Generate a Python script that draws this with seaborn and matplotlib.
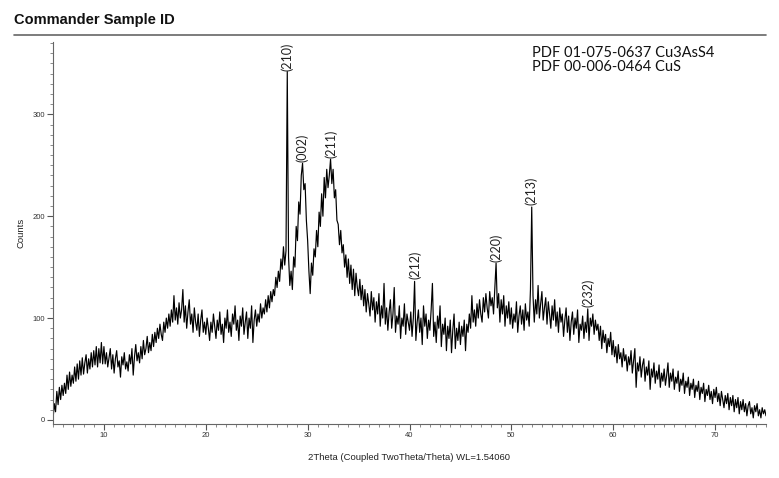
import numpy as np
import matplotlib
matplotlib.use("Agg")
from matplotlib import pyplot as plt
from matplotlib.lines import Line2D
from matplotlib.ticker import MultipleLocator
import seaborn as sns

# 2Theta grid: 5.000 .. 75.000, step 0.125 deg
theta_start = 5.0
theta_step = 0.125

# counts, one list per 5 degrees (40 points each)
counts_05 = [0, 16, 8, 28, 15, 32, 20, 34, 24, 36,
             26, 44, 30, 47, 33, 44, 36, 52, 38, 55,
             40, 58, 44, 61, 45, 56, 64, 46, 60, 50,
             66, 52, 68, 54, 72, 52, 70, 56, 76, 55]
counts_10 = [72, 55, 66, 52, 61, 70, 50, 64, 46, 60,
             68, 52, 58, 42, 62, 54, 66, 50, 57, 48,
             64, 55, 70, 44, 62, 74, 58, 66, 56, 72,
             60, 78, 64, 70, 82, 66, 76, 68, 84, 72]
counts_15 = [86, 76, 90, 80, 94, 84, 78, 96, 86, 100,
             90, 104, 92, 108, 96, 122, 98, 110, 94, 115,
             100, 108, 128, 96, 112, 90, 106, 118, 94, 104,
             86, 110, 96, 88, 104, 82, 98, 108, 86, 96]
counts_20 = [84, 100, 90, 78, 96, 86, 104, 92, 80, 98,
             88, 106, 84, 94, 76, 100, 90, 108, 86, 96,
             82, 104, 94, 112, 88, 98, 78, 102, 92, 110,
             84, 96, 106, 80, 100, 90, 112, 76, 98, 108]
counts_25 = [92, 104, 96, 114, 100, 110, 104, 118, 106, 122,
             110, 126, 116, 128, 122, 140, 130, 146, 136, 158,
             148, 170, 152, 166, 342, 160, 132, 146, 128, 160,
             150, 190, 176, 214, 202, 240, 252, 226, 232, 196]
counts_30 = [176, 146, 124, 154, 142, 168, 160, 186, 170, 204,
             190, 222, 200, 238, 218, 246, 228, 240, 256, 232,
             246, 218, 226, 196, 192, 172, 186, 164, 172, 150,
             162, 140, 158, 134, 152, 128, 148, 122, 144, 130]
counts_35 = [122, 138, 118, 132, 112, 128, 106, 124, 114, 102,
             126, 108, 120, 96, 116, 104, 124, 92, 112, 100,
             134, 94, 110, 88, 106, 118, 90, 104, 130, 86,
             102, 94, 112, 80, 100, 92, 114, 84, 104, 96]
counts_40 = [88, 106, 82, 100, 136, 78, 96, 108, 86, 100,
             74, 112, 92, 104, 80, 98, 88, 108, 134, 82,
             96, 76, 102, 90, 112, 72, 94, 84, 100, 68,
             92, 80, 98, 66, 88, 104, 70, 90, 78, 96]
counts_45 = [74, 92, 82, 98, 68, 94, 86, 104, 90, 122,
             96, 108, 92, 114, 100, 118, 104, 96, 120, 106,
             124, 110, 100, 126, 112, 120, 104, 128, 154, 110,
             124, 96, 118, 104, 122, 92, 112, 100, 116, 94]
counts_50 = [110, 90, 104, 96, 116, 86, 102, 112, 94, 108,
             88, 114, 98, 106, 92, 128, 209, 122, 96, 118,
             104, 132, 100, 114, 126, 98, 110, 120, 94, 116,
             104, 90, 112, 98, 118, 92, 106, 86, 110, 96]
counts_55 = [104, 82, 98, 110, 86, 102, 78, 96, 106, 84,
             100, 90, 108, 76, 94, 88, 102, 80, 96, 86,
             109, 78, 100, 92, 104, 84, 98, 88, 94, 78,
             92, 70, 88, 76, 84, 66, 80, 72, 86, 64]
counts_60 = [78, 62, 72, 56, 74, 60, 66, 52, 70, 58,
             64, 48, 62, 54, 68, 46, 58, 70, 32, 56,
             48, 62, 42, 54, 60, 38, 52, 44, 58, 30,
             50, 42, 56, 36, 48, 40, 54, 32, 46, 38]
counts_65 = [50, 34, 44, 56, 32, 46, 38, 50, 30, 42,
             36, 48, 28, 40, 34, 46, 26, 38, 32, 42,
             24, 36, 30, 40, 22, 34, 28, 38, 20, 32,
             26, 36, 18, 30, 24, 34, 20, 28, 16, 30]
counts_70 = [22, 32, 18, 26, 14, 28, 20, 12, 24, 16,
             26, 10, 22, 14, 24, 8, 20, 12, 22, 6,
             18, 10, 20, 8, 16, 4, 14, 18, 6, 12,
             2, 14, 8, 16, 4, 10, 2, 12, 6, 10,
             4]

# reflections marked on the pattern
peak_labels = ["(210)", "(002)", "(211)", "(212)", "(220)", "(213)", "(232)"]
peak_pos = [27.95, 29.45, 32.3, 40.55, 48.5, 51.95, 57.55]
peak_top = [341, 251, 255, 136, 153, 209, 109]

ref_cards = ["PDF 01-075-0637 Cu3AsS4", "PDF 00-006-0464 CuS"]

counts = np.array(counts_05 + counts_10 + counts_15 + counts_20 + counts_25 + counts_30 +
                  counts_35 + counts_40 + counts_45 + counts_50 + counts_55 + counts_60 +
                  counts_65 + counts_70)
two_theta = theta_start + theta_step * np.arange(len(counts))

sns.set_style("ticks")
plt.rcParams['font.family'] = ['Liberation Sans', 'DejaVu Sans']

fig = plt.figure(figsize=(7.79, 4.78), dpi=100)
ax = fig.add_axes([53 / 779, 1 - 424 / 478, 713 / 779, 382 / 478])

sns.lineplot(x=two_theta, y=counts, ax=ax, color='black', linewidth=0.85)

ax.set_xlim(5, 75)
ax.set_ylim(-4, 371)
ax.xaxis.set_major_locator(MultipleLocator(10))
ax.xaxis.set_minor_locator(MultipleLocator(1))
ax.yaxis.set_major_locator(MultipleLocator(100))
ax.yaxis.set_minor_locator(MultipleLocator(10))
ax.tick_params(which='major', length=4, width=0.8, color='#555555', labelsize=5.5, labelcolor='#333333', pad=2)
ax.tick_params(which='minor', length=2, width=0.6, color='#777777')
for side in ['top', 'right']:
    ax.spines[side].set_visible(False)
for side in ['left', 'bottom']:
    ax.spines[side].set_color('#666666')
    ax.spines[side].set_linewidth(0.8)

ax.set_xlabel("2Theta (Coupled TwoTheta/Theta) WL=1.54060", fontsize=6.8, color='#222222', labelpad=10)
ax.set_ylabel("Counts", fontsize=6.8, color='#222222', labelpad=5)

for lab, xp, yp in zip(peak_labels, peak_pos, peak_top):
    ax.text(xp, yp + 2, lab, rotation=90, ha='center', va='bottom', fontsize=9,
            family=['Lato', 'DejaVu Sans'], color='#222222')

ax.text(0.672, 0.99, "\n".join(ref_cards), transform=ax.transAxes, ha='left', va='top',
        fontsize=10.5, family=['Lato', 'DejaVu Sans'], color='#111111', linespacing=1.05)

fig.text(14 / 779, 1 - 20 / 478, "Commander Sample ID", fontsize=10.5, fontweight='bold',
         ha='left', va='center', color='#111111')
fig.add_artist(Line2D([14 / 779, 766 / 779], [1 - 35 / 478, 1 - 35 / 478], color='#666666', linewidth=1.2))

fig.savefig("out.png", dpi=100)
